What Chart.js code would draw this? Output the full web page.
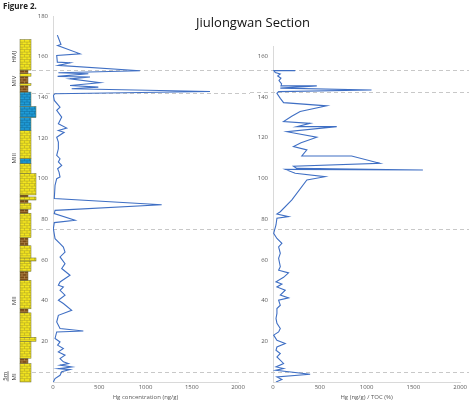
<!DOCTYPE html>
<html>
<head>
<meta charset="utf-8">
<script src="https://cdn.jsdelivr.net/npm/chart.js@4.4.1/dist/chart.umd.min.js"></script>
<style>
  html, body { margin: 0; padding: 0; background: #fff; }
  #wrap { position: relative; width: 469px; height: 401px; overflow: hidden; font-family: 'Open Sans', sans-serif; }
  #fig { position: absolute; left: 3px; top: 0px; font-size: 8px; font-weight: bold; color: #222; }
  #title { position: absolute; left: 153px; top: 13px; width: 200px; text-align: center; font-size: 13px; color: #111; }
  canvas { position: absolute; top: 0; }
  #leftChart { left: 0; }
  #rightChart { left: 250px; }
</style>
</head>
<body>
<div id="wrap">
  <canvas id="leftChart" width="250" height="401"></canvas>
  <canvas id="rightChart" width="219" height="401"></canvas>
  <div id="fig">Figure 2.</div>
  <div id="title">Jiulongwan Section</div>
</div>
<script>
// Hg concentration profile (depth m, ng/g), top to bottom
const hgDepth = [
  170.6, 166, 165.5, 161.4, 160.6, 157.3, 157, 155.7, 153.1, 152.1,
  151.6, 150.3, 150, 149.1, 147.2, 145.8, 145, 144.2, 142.9, 141.8,
  141, 138.5, 135.2, 133.6, 130.3, 127, 124.9, 123.7, 122.8, 120.4,
  118, 114.7, 111.5, 109.8, 108.2, 106.5, 104.9, 103.2, 100.8, 100,
  96.7, 90.2, 87.2, 84.4, 82.8, 79.5, 78.4, 75.4, 70.5, 68,
  66.4, 63.9, 61.5, 58.2, 55.8, 52.5, 49.2, 47.6, 46.7, 45.1,
  42.7, 40.2, 38.6, 35.3, 32.8, 29.5, 26.3, 25.1, 24.6, 21.4,
  19.7, 18.1, 16.5, 14.8, 13.2, 11.5, 9.9, 9.1, 8.3, 7.4,
  6.6, 6.1, 5.0, 3.3, 1.7, 0
];
const hgConc = [
  47, 86, 50, 292, 40, 47, 184, 58, 940, 58,
  382, 50, 400, 184, 508, 184, 490, 202, 1697, 22,
  4, 14, 76, 40, 94, 58, 148, 58, 120, 40,
  58, 58, 40, 76, 58, 94, 50, 65, 76, 40,
  22, 14, 1175, 22, 14, 238, 14, 4, 22, 76,
  112, 130, 76, 130, 94, 184, 76, 58, 112, 76,
  130, 58, 112, 202, 58, 40, 76, 328, 40, 22,
  76, 50, 112, 58, 130, 76, 112, 166, 76, 202,
  58, 184, 94, 76, 22, 4
];

// Hg/TOC profile (depth m, (ng/g)/%), top to bottom
const tocDepth = [
  152.9, 152.9, 152, 151.3, 150.3, 149.2, 148, 146.4, 145.4, 145.4,
  144.3, 143.4, 142.6, 141.8, 139.3, 137.2, 135.6, 132.8, 130.5, 127.9,
  127, 125.4, 125.4, 122.9, 120.2, 117.5, 115.6, 114, 111, 111,
  107.4, 106, 104.9, 104.1, 104.4, 102.5, 100.8, 99.2, 89.4, 83.6,
  82.5, 81.2, 80.4, 77.1, 73, 70.5, 68.1, 66.4, 63.2, 60.7,
  56.6, 54.9, 53.6, 51.4, 49.2, 48.1, 46.7, 45.1, 42.7, 41.3,
  40.2, 37.7, 36.1, 33.7, 31.2, 28.8, 26.3, 24.6, 23, 20.5,
  18.9, 17.2, 15.6, 14, 12.3, 9.1, 7.4, 6.6, 5.8, 3.8,
  2.5, 1.2, 0
];
const hgToc = [
  237, 10, 24, 78, 50, 85, 64, 92, 85, 468,
  78, 1053, 60, 42, 78, 113, 574, 290, 200, 113,
  397, 255, 681, 149, 468, 300, 219, 362, 308, 840,
  1141, 219, 255, 1602, 131, 237, 556, 362, 202, 78,
  42, 166, 42, 32, 7, 42, 95, 60, 78, 60,
  78, 60, 166, 113, 32, 95, 42, 131, 78, 166,
  60, 78, 42, 42, 32, 42, 78, 60, 7, 42,
  131, 42, 32, 78, 42, 113, 32, 113, 32, 397,
  42, 95, 32
];

// member boundaries (m)
const boundaryDepths = [153.2, 142.3, 75.2, 5.0];

// lithology column: base, top, rock, relative width
const lithBase  = [0, 9, 11.7, 20, 22, 34, 36, 50, 54.5, 59.5, 61, 67, 71, 83, 85, 88, 89.5, 91, 92, 102.5, 107.5, 110, 123.6, 130, 135.5, 142.6, 145.8, 146.7, 150.4, 151.6, 153.4];
const lithTop   = [9, 11.7, 20, 22, 34, 36, 50, 54.5, 59.5, 61, 67, 71, 83, 85, 88, 89.5, 91, 92, 102.5, 107.5, 110, 123.6, 130, 135.5, 142.6, 145.8, 146.7, 150.4, 151.6, 153.4, 168.4];
const lithRock  = ['dol', 'sh', 'dol', 'dol', 'dol', 'sh', 'dol', 'sh', 'dol', 'dol', 'dol', 'sh', 'dol', 'sh', 'dol', 'sh', 'dol', 'sh', 'dol', 'dol', 'ls', 'dol', 'ls', 'ls', 'ls', 'sh', 'dol', 'sh', 'dol', 'sh', 'dol'];
const lithWidth = [2, 1, 2, 3, 2, 1, 2, 1, 2, 3, 2, 1, 2, 1, 2, 1, 3, 1, 3, 2, 2, 2, 2, 3, 2, 1, 2, 1, 2, 1, 2];

const memberNames = ['HMJ', 'MIV', 'MIII', 'MII', 'MI'];
const memberMid   = [160, 148, 110, 40, 2.5];

const lineBlue = '#3f6fc4';
const axisGrey = '#d9d9d9';
const tickGrey = '#595959';
const tickFont = { family: 'Open Sans', size: 6 };

// dashed member boundaries across the whole width
function boundaryPlugin(startX) {
  return {
    id: 'boundaries',
    beforeDatasetsDraw(chart) {
      const { ctx } = chart;
      const y = chart.scales.y;
      ctx.save();
      ctx.strokeStyle = '#c8c8c8';
      ctx.lineWidth = 1;
      ctx.setLineDash([4, 3]);
      boundaryDepths.forEach(d => {
        const py = Math.round(y.getPixelForValue(d)) + 0.5;
        ctx.beginPath();
        ctx.moveTo(startX, py);
        ctx.lineTo(chart.width, py);
        ctx.stroke();
      });
      ctx.restore();
    }
  };
}

// stratigraphic column on the left of the first panel
const rockStyle = {
  dol: { fill: '#f4e61e', line: '#a49a2a' },
  sh:  { fill: '#7a4a16', line: '#c9a060' },
  ls:  { fill: '#1f9bd6', line: '#126a99' }
};
const lithPlugin = {
  id: 'lithology',
  afterDraw(chart) {
    const { ctx } = chart;
    const y = chart.scales.y;
    const colX = 20;
    const widths = { 1: 8, 2: 11, 3: 16 };
    ctx.save();
    lithBase.forEach((b, i) => {
      const top = y.getPixelForValue(lithTop[i]);
      const bot = y.getPixelForValue(b);
      const w = widths[lithWidth[i]];
      const st = rockStyle[lithRock[i]];
      ctx.fillStyle = st.fill;
      ctx.fillRect(colX, top, w, bot - top);
      // brick texture
      ctx.strokeStyle = st.line;
      ctx.lineWidth = 0.5;
      let row = 0;
      for (let py = top + 2.5; py < bot; py += 2.5, row++) {
        ctx.beginPath();
        ctx.moveTo(colX, py);
        ctx.lineTo(colX + w, py);
        ctx.stroke();
        const off = row % 2 ? 2 : 4.5;
        for (let px = colX + off; px < colX + w; px += 5) {
          ctx.beginPath();
          ctx.moveTo(px, py - 2.5);
          ctx.lineTo(px, py);
          ctx.stroke();
        }
      }
      ctx.strokeStyle = '#6b6b3a';
      ctx.strokeRect(colX, top, w, bot - top);
    });

    // member labels, rotated
    ctx.fillStyle = '#333';
    ctx.font = '6px "Open Sans"';
    ctx.textAlign = 'center';
    ctx.textBaseline = 'middle';
    memberNames.forEach((name, i) => {
      ctx.save();
      ctx.translate(14, y.getPixelForValue(memberMid[i]));
      ctx.rotate(-Math.PI / 2);
      ctx.fillText(name, 0, 0);
      ctx.restore();
    });

    // 5 m scale bar
    const s0 = y.getPixelForValue(0.3);
    const s1 = y.getPixelForValue(5.3);
    ctx.save();
    ctx.translate(5, (s0 + s1) / 2);
    ctx.rotate(-Math.PI / 2);
    ctx.fillText('5m', 0, 0);
    ctx.restore();
    ctx.strokeStyle = '#333';
    ctx.lineWidth = 0.7;
    ctx.beginPath();
    ctx.moveTo(8, s0);
    ctx.lineTo(8, s1);
    ctx.stroke();
    ctx.restore();
  }
};

function makeProfile(canvasId, depth, values, opts) {
  const points = depth.map((d, i) => ({ x: values[i], y: d }));
  return new Chart(document.getElementById(canvasId), {
    type: 'scatter',
    data: {
      datasets: [{
        data: points,
        showLine: true,
        borderColor: lineBlue,
        borderWidth: 1.1,
        pointRadius: 0,
        tension: 0
      }]
    },
    options: {
      responsive: false,
      animation: false,
      layout: { padding: { top: opts.padTop, right: opts.padRight, bottom: 0, left: 0 } },
      plugins: { legend: { display: false }, tooltip: { enabled: false } },
      scales: {
        x: {
          type: 'linear',
          min: 0,
          max: 2000,
          ticks: { stepSize: 500, font: tickFont, color: tickGrey, padding: 2, maxRotation: 0, callback: v => String(v) },
          grid: { display: false, drawTicks: false },
          border: { color: axisGrey },
          title: { display: true, text: opts.xTitle, font: tickFont, color: tickGrey, padding: 0 },
          afterFit: s => { s.height = 19; }
        },
        y: {
          type: 'linear',
          min: 0,
          max: opts.yMax,
          ticks: { stepSize: 20, font: tickFont, color: tickGrey, padding: 5, callback: v => String(v) },
          afterBuildTicks: s => { s.ticks = s.ticks.filter(t => t.value > 0 && t.value % 20 === 0); },
          grid: { display: false, drawTicks: false },
          border: { color: axisGrey },
          afterFit: s => { s.width = opts.yWidth; }
        }
      }
    },
    plugins: opts.plugins
  });
}

makeProfile('leftChart', hgDepth, hgConc, {
  yMax: 180, padTop: 16, padRight: 12, yWidth: 53,
  xTitle: 'Hg concentration (ng/g)',
  plugins: [boundaryPlugin(32), lithPlugin]
});

makeProfile('rightChart', tocDepth, hgToc, {
  yMax: 165, padTop: 46, padRight: 8, yWidth: 23,
  xTitle: 'Hg (ng/g) / TOC (%)',
  plugins: [boundaryPlugin(0)]
});
</script>
</body>
</html>
